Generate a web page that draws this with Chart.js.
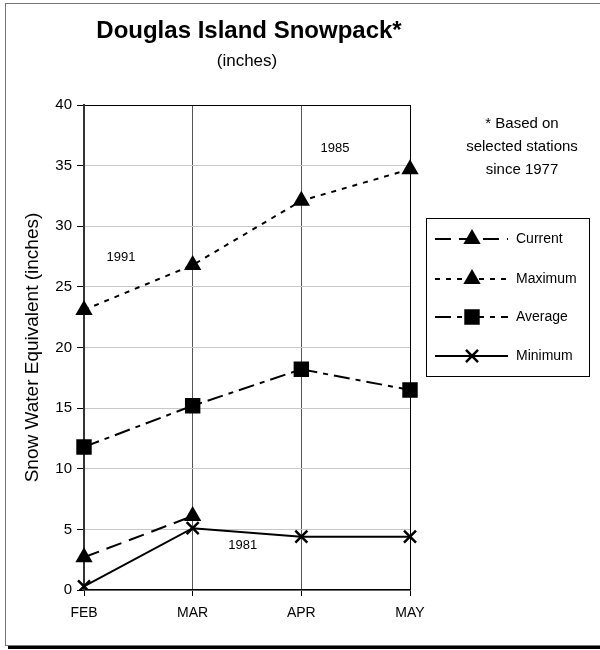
<!DOCTYPE html>
<html lang="en">
<head>
<meta charset="UTF-8" />
<title>Douglas Island Snowpack</title>
<style>
  * {margin:0; padding:0; box-sizing:border-box;}
  body {background:#fff; width:600px; height:650px; overflow:hidden;}
  #wrap {position:relative; width:600px; height:650px;}
</style>
</head>
<body>
<div id="wrap"><canvas id="snowChart" width="600" height="650"></canvas></div>

<script src="https://cdn.jsdelivr.net/npm/chart.js"></script>
<script>
  // data
  const months = ['FEB', 'MAR', 'APR', 'MAY'];
  const current = [2.7, 6.1, null, null];
  const maximum = [23.1, 26.8, 32.1, 34.7];
  const average = [11.8, 15.2, 18.2, 16.5];
  const minimum = [0.3, 5.1, 4.4, 4.4];
  const yTicks = [0, 5, 10, 15, 20, 25, 30, 35, 40];

  // record years written beside the lines: [label, x (month index), y (inches)]
  const recordNotes = [['1991', 0.34, 27.4], ['1985', 2.31, 36.4], ['1981', 1.46, 3.7]];
  const footNote = ['* Based on', 'selected stations', 'since 1977'];

  const FONT = "'Liberation Sans', Arial, sans-serif";

  function series(label, data, dash, style, radius, bw) {
    return {
      label, data,
      borderColor: '#000', backgroundColor: '#000',
      borderWidth: 2, borderDash: dash, borderCapStyle: 'butt',
      pointStyle: style, pointRadius: radius, pointHoverRadius: radius,
      pointBackgroundColor: '#000', pointBorderColor: '#000', pointBorderWidth: bw,
      tension: 0, spanGaps: false
    };
  }

  const extras = {
    id: 'extras',
    beforeDraw(chart) {
      const c = chart.ctx;
      c.save();
      c.fillStyle = '#fff';
      c.fillRect(0, 0, 600, 650);
      // outer frame + shadow
      c.strokeStyle = '#777';
      c.lineWidth = 1;
      c.strokeRect(5.5, 3.5, 600, 642);
      c.fillStyle = '#000';
      c.fillRect(8, 646, 592, 3);
      c.restore();
    },
    afterDraw(chart) {
      const c = chart.ctx;
      const xs = chart.scales.x, ys = chart.scales.y;
      c.save();
      c.fillStyle = '#000';
      c.textAlign = 'center';
      c.textBaseline = 'middle';
      c.font = 'bold 24px ' + FONT;
      c.fillText('Douglas Island Snowpack*', 249, 31);
      c.font = '17px ' + FONT;
      c.fillText('(inches)', 247, 61);

      c.font = '15px ' + FONT;
      footNote.forEach((t, i) => c.fillText(t, 522, 124 + i * 23));

      c.font = '13px ' + FONT;
      recordNotes.forEach(([t, xi, yv]) => {
        c.fillText(t, xs.getPixelForValue(xi), ys.getPixelForValue(yv));
      });

      // legend box
      c.strokeStyle = '#000';
      c.lineWidth = 1;
      c.strokeRect(426.5, 218.5, 163, 158);
      const rows = [239, 279, 317, 356];
      chart.data.datasets.forEach((ds, i) => {
        const y = rows[i];
        c.save();
        c.strokeStyle = '#000';
        c.lineWidth = 2;
        c.setLineDash(ds.borderDash || []);
        c.beginPath();
        c.moveTo(435, y);
        c.lineTo(508, y);
        c.stroke();
        c.restore();
        c.save();
        c.fillStyle = '#000';
        c.strokeStyle = '#000';
        c.lineWidth = ds.pointBorderWidth;
        Chart.helpers.drawPoint(c, {pointStyle: ds.pointStyle, radius: ds.pointRadius, rotation: 0, borderWidth: ds.pointBorderWidth}, 472, y);
        c.restore();
        c.textAlign = 'left';
        c.font = '14px ' + FONT;
        c.fillText(ds.label, 516, y);
      });
      c.restore();
    }
  };

  new Chart(document.getElementById('snowChart').getContext('2d'), {
    type: 'line',
    data: {
      labels: months,
      datasets: [
        series('Current', current, [16, 8], 'triangle', 8, 2),
        series('Maximum', maximum, [5, 6], 'triangle', 8, 2),
        series('Average', average, [16, 6, 5, 6], 'rect', 9.5, 2),
        series('Minimum', minimum, [], 'crossRot', 8.5, 2.5)
      ]
    },
    options: {
      responsive: false,
      animation: false,
      events: [],
      layout: {padding: {left: 0, right: 190, top: 105, bottom: 0}},
      plugins: {legend: {display: false}, title: {display: false}, tooltip: {enabled: false}},
      scales: {
        x: {
          offset: false,
          afterFit: (s) => { s.height = 60; },
          ticks: {color: '#000', font: {family: FONT, size: 14}, padding: 9, maxRotation: 0},
          grid: {
            color: (ctx) => ctx.index === months.length - 1 ? '#000' : '#555',
            tickColor: '#000', tickLength: 6, lineWidth: 1
          },
          border: {color: '#000', width: 1.5}
        },
        y: {
          min: 0, max: 40,
          afterFit: (s) => { s.width = 84; },
          afterBuildTicks: (s) => { s.ticks = yTicks.map(v => ({value: v})); },
          ticks: {color: '#000', font: {family: FONT, size: 15}, padding: 5},
          grid: {
            color: (ctx) => ctx.tick && ctx.tick.value === 40 ? '#000' : '#c8c8c8',
            tickColor: '#000', tickLength: 7, lineWidth: 1
          },
          border: {color: '#333', width: 2},
          title: {display: true, text: 'Snow Water Equivalent (inches)', color: '#000',
                  font: {family: FONT, size: 19}, padding: {top: 21, bottom: 0}}
        }
      }
    },
    plugins: [extras]
  });
</script>
</body>
</html>
